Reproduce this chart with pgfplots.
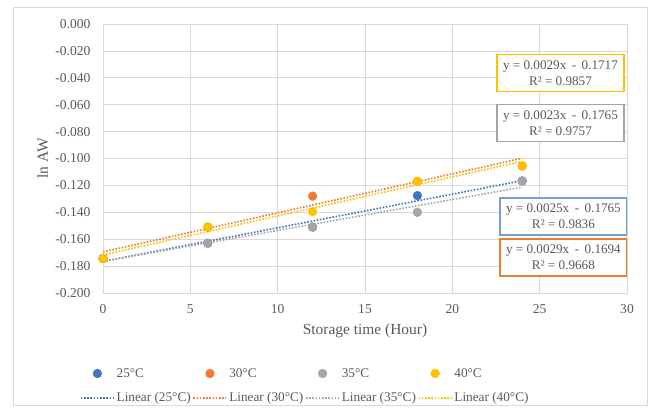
\documentclass[border=0pt]{standalone}
\usepackage{pgfplots}
\pgfplotsset{compat=1.18}
\usepackage{fontspec}
\setmainfont{Liberation Serif}
\definecolor{cblue}{HTML}{4472C4}
\definecolor{corange}{HTML}{ED7D31}
\definecolor{cgray}{HTML}{A5A5A5}
\definecolor{cyellow}{HTML}{FFC000}
\definecolor{ctext}{HTML}{595959}
\definecolor{cgrid}{HTML}{D9D9D9}
\newcommand{\legbox}[1]{\makebox[74bp][l]{#1}}
\begin{document}
\begin{tikzpicture}
\useasboundingbox (-103bp,-116bp) rectangle (552bp,293bp);
\draw[cgrid, line width=0.8bp] (-90bp,-112bp) rectangle (544bp,286bp);
\begin{axis}[
  scale only axis, width=524bp, height=269bp,
  xmin=0, xmax=30, ymin=-0.2, ymax=0,
  xtick={0,5,10,15,20,25,30},
  ytick={-0.2,-0.18,-0.16,-0.14,-0.12,-0.1,-0.08,-0.06,-0.04,-0.02,0},
  yticklabel style={/pgf/number format/fixed, /pgf/number format/fixed zerofill, /pgf/number format/precision=3, xshift=-9bp},
  /pgf/number format/assume math mode=true,
  major tick length=0pt,
  grid=major,
  grid style={cgrid, line width=0.8bp},
  axis line style={cgrid, line width=0.8bp},
  tick label style={font=\fontsize{13.6}{15}\selectfont, text=ctext},
  xticklabel style={yshift=-8bp},
  every axis x label/.style={at={(axis description cs:0.5,0)}, anchor=center, yshift=-38bp},
  every axis y label/.style={at={(axis description cs:-0.115,0.5)}, anchor=center, rotate=90},
  label style={font=\fontsize{15.5}{17}\selectfont, text=ctext},
  xlabel={Storage time (Hour)},
  ylabel={ln AW},
  legend columns=4,
  legend image code/.code={\draw[mark repeat=2,mark phase=2,#1] plot coordinates {(0bp,0bp) (16.5bp,0bp) (33bp,0bp)};},
  legend style={at={(0.386,-0.272)}, anchor=north, draw=none, fill=none,
    font=\fontsize{13.3}{15}\selectfont, text=ctext,
    row sep=10bp, inner sep=0pt},
  legend cell align=left,
]
\addplot[only marks, mark=*, mark size=4.4bp, cblue, mark options={draw=cblue, fill=cblue}] coordinates {(0,-0.1744) (6,-0.163) (12,-0.151) (18,-0.1276) (24,-0.1167)};
\addplot[only marks, mark=*, mark size=4.4bp, corange, mark options={draw=corange, fill=corange}] coordinates {(0,-0.1744) (6,-0.151) (12,-0.128) (18,-0.117) (24,-0.1056)};
\addplot[only marks, mark=*, mark size=4.4bp, cgray, mark options={draw=cgray, fill=cgray}] coordinates {(0,-0.1744) (6,-0.163) (12,-0.151) (18,-0.140) (24,-0.1167)};
\addplot[only marks, mark=*, mark size=4.4bp, cyellow, mark options={draw=cyellow, fill=cyellow}] coordinates {(0,-0.1744) (6,-0.151) (12,-0.1395) (18,-0.117) (24,-0.1056)};
\addplot[cblue, line width=1.6bp, dash pattern=on 1.6bp off 1.6bp] coordinates {(0,-0.1765) (24,-0.1165)};
\addplot[corange, line width=1.6bp, dash pattern=on 1.6bp off 1.6bp] coordinates {(0,-0.1694) (24,-0.0998)};
\addplot[cgray, line width=1.6bp, dash pattern=on 1.6bp off 1.6bp] coordinates {(0,-0.1765) (24,-0.1213)};
\addplot[cyellow, line width=1.6bp, dash pattern=on 1.6bp off 1.6bp] coordinates {(0,-0.1717) (24,-0.1021)};
\legend{\legbox{25°C},\legbox{30°C},\legbox{35°C},\legbox{40°C},\legbox{Linear (25°C)},\legbox{Linear (30°C)},\legbox{Linear (35°C)},\legbox{Linear (40°C)}}
\begin{scope}[every node/.style={fill=white, line width=1.2bp, minimum width=127bp, minimum height=37bp, align=center, inner sep=1bp, text=ctext, font=\fontsize{13.2}{16}\selectfont}]
\node[draw=cyellow] at (axis cs:26.19,-0.0364) {y = 0.0029x \,-\, 0.1717\\R² = 0.9857};
\node[draw=cgray] at (axis cs:26.19,-0.0736) {y = 0.0023x \,-\, 0.1765\\R² = 0.9757};
\node[draw=cblue!70] at (axis cs:26.36,-0.1431) {y = 0.0025x \,-\, 0.1765\\R² = 0.9836};
\node[draw=corange] at (axis cs:26.36,-0.1736) {y = 0.0029x \,-\, 0.1694\\R² = 0.9668};
\end{scope}
\end{axis}
\end{tikzpicture}
\end{document}
